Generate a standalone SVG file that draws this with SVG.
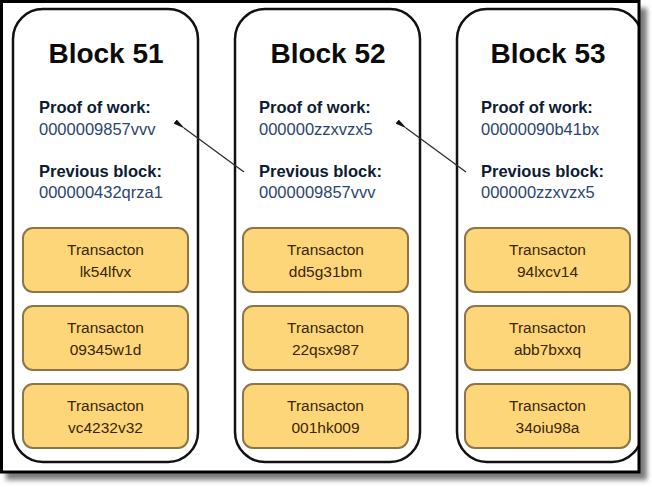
<svg xmlns="http://www.w3.org/2000/svg" width="652" height="487" viewBox="0 0 652 487">
<style>
.blk{fill:#fff;stroke:#111;stroke-width:2.5}
.title{font-family:"Liberation Sans",Arial,sans-serif;font-weight:bold;font-size:28px;fill:#0b0b0b;text-anchor:middle}
.lbl{font-family:"Liberation Sans",Arial,sans-serif;font-weight:bold;font-size:16.5px;fill:#0d1b33}
.val{font-family:"Liberation Sans",Arial,sans-serif;font-size:16.5px;fill:#2b4570}
.tx{fill:#fdd67a;stroke:#8f7448;stroke-width:2}
.txt{font-family:"Liberation Sans",Arial,sans-serif;font-size:15.5px;fill:#3a2608;text-anchor:middle}
.conn{stroke:#2e2e2e;stroke-width:1.3;fill:none}
</style>
<defs>
<marker id="ah" viewBox="0 0 12 6" refX="1" refY="3" markerWidth="12" markerHeight="6" markerUnits="userSpaceOnUse" orient="auto">
<path d="M0,3 L12,0.5 L12,5.5 Z" fill="#111"/>
</marker>
<clipPath id="fr"><rect x="0" y="0" width="638" height="471"/></clipPath>
<filter id="sh" x="-5%" y="-5%" width="110%" height="110%"><feGaussianBlur stdDeviation="2.5"/></filter>
</defs>
<rect x="0" y="0" width="652" height="487" fill="#fff"/>
<rect x="6" y="8" width="641" height="472" fill="#7a7a7a" filter="url(#sh)"/>
<rect x="1.5" y="1.5" width="637.5" height="470.5" fill="#fff"/>
<g clip-path="url(#fr)">
<g id="block51">
<rect class="blk" x="13" y="9" width="185" height="453" rx="30"/>
<text class="title" x="106" y="63">Block 51</text>
<text class="lbl" x="39" y="113">Proof of work:</text>
<text class="val" x="39" y="135">0000009857vvv</text>
<text class="lbl" x="39" y="177">Previous block:</text>
<text class="val" x="39" y="198">000000432qrza1</text>
<rect class="tx" x="23" y="228" width="165" height="64" rx="10"/>
<text class="txt" x="105.5" y="255">Transacton</text><text class="txt" x="105.5" y="277">lk54lfvx</text>
<rect class="tx" x="23" y="306" width="165" height="64" rx="10"/>
<text class="txt" x="105.5" y="333">Transacton</text><text class="txt" x="105.5" y="355">09345w1d</text>
<rect class="tx" x="23" y="384" width="165" height="64" rx="10"/>
<text class="txt" x="105.5" y="411">Transacton</text><text class="txt" x="105.5" y="433">vc4232v32</text>
</g>
<g id="block52">
<rect class="blk" x="235" y="9" width="185" height="453" rx="30"/>
<text class="title" x="328" y="63">Block 52</text>
<text class="lbl" x="259" y="113">Proof of work:</text>
<text class="val" x="259" y="135">000000zzxvzx5</text>
<text class="lbl" x="259" y="177">Previous block:</text>
<text class="val" x="259" y="198">0000009857vvv</text>
<rect class="tx" x="243" y="228" width="165" height="64" rx="10"/>
<text class="txt" x="325.5" y="255">Transacton</text><text class="txt" x="325.5" y="277">dd5g31bm</text>
<rect class="tx" x="243" y="306" width="165" height="64" rx="10"/>
<text class="txt" x="325.5" y="333">Transacton</text><text class="txt" x="325.5" y="355">22qsx987</text>
<rect class="tx" x="243" y="384" width="165" height="64" rx="10"/>
<text class="txt" x="325.5" y="411">Transacton</text><text class="txt" x="325.5" y="433">001hk009</text>
</g>
<g id="block53">
<rect class="blk" x="457" y="9" width="185" height="453" rx="30"/>
<text class="title" x="548" y="63">Block 53</text>
<text class="lbl" x="481" y="113">Proof of work:</text>
<text class="val" x="481" y="135">00000090b41bx</text>
<text class="lbl" x="481" y="177">Previous block:</text>
<text class="val" x="481" y="198">000000zzxvzx5</text>
<rect class="tx" x="465" y="228" width="165" height="64" rx="10"/>
<text class="txt" x="547.5" y="255">Transacton</text><text class="txt" x="547.5" y="277">94lxcv14</text>
<rect class="tx" x="465" y="306" width="165" height="64" rx="10"/>
<text class="txt" x="547.5" y="333">Transacton</text><text class="txt" x="547.5" y="355">abb7bxxq</text>
<rect class="tx" x="465" y="384" width="165" height="64" rx="10"/>
<text class="txt" x="547.5" y="411">Transacton</text><text class="txt" x="547.5" y="433">34oiu98a</text>
</g>
</g>
<g id="connectors">
<line class="conn" x1="244" y1="172" x2="184" y2="128" marker-end="url(#ah)"/>
<line class="conn" x1="466" y1="172" x2="406" y2="128" marker-end="url(#ah)"/>
</g>
<rect x="1.5" y="1.5" width="637.5" height="470.5" fill="none" stroke="#000" stroke-width="3"/>
</svg>
